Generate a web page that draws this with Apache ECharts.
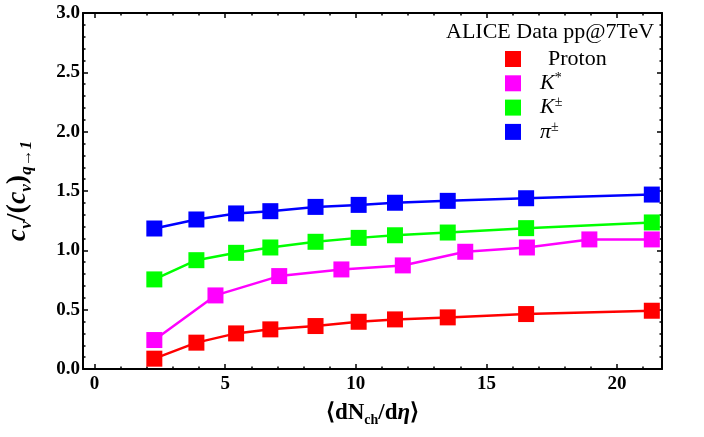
<!DOCTYPE html>
<html>
<head>
<meta charset="utf-8">
<script src="https://cdn.jsdelivr.net/npm/echarts@6/dist/echarts.min.js"></script>
<style>
  html, body { margin: 0; padding: 0; background: #fff; }
  #main { width: 704px; height: 437px; }
</style>
</head>
<body>
<div id="main"></div>
<script>
// dN/deta bins (proton, K+-, pi+-) and K* bins
var xMain = [2.29, 3.90, 5.42, 6.73, 8.46, 10.11, 11.5, 13.52, 16.52, 21.33];
var xKstar = [2.29, 4.63, 7.07, 9.45, 11.8, 14.19, 16.55, 18.94, 21.33];

var proton = [0.087, 0.222, 0.300, 0.334, 0.362, 0.398, 0.418, 0.435, 0.463, 0.491];
var kstar = [0.244, 0.620, 0.783, 0.839, 0.873, 0.988, 1.024, 1.092, 1.092];
var kaon = [0.755, 0.917, 0.979, 1.024, 1.072, 1.105, 1.127, 1.150, 1.187, 1.235];
var pion = [1.184, 1.260, 1.311, 1.330, 1.366, 1.383, 1.401, 1.417, 1.439, 1.470];

var xMajor = [0, 5, 10, 15, 20];
var xMinor = [1, 2, 3, 4, 6, 7, 8, 9, 11, 12, 13, 14, 16, 17, 18, 19, 21];

var names = ['Proton', 'K*', 'K±', 'π±'];
var colors = ['#ff0000', '#ff00ff', '#00ff00', '#0000ff'];

var serif = 'Liberation Serif';

function pairs(xs, ys) {
    return ys.map(function (v, i) { return [xs[i], v]; });
}

var myChart = echarts.init(document.getElementById('main'));

var tickStyle = { color: '#000', width: 1.5 };

function xAx(pos, ticks, len, withLabels, withLine) {
    return {
        type: 'value',
        position: pos,
        min: -0.44,
        max: 21.72,
        axisLine: { show: withLine, onZero: false, lineStyle: { color: '#000', width: 2 } },
        axisTick: { show: true, inside: true, length: len, customValues: ticks, lineStyle: tickStyle },
        axisLabel: withLabels ? {
            customValues: ticks,
            color: '#000', fontFamily: serif, fontWeight: 'bold', fontSize: 19, margin: 6
        } : { show: false },
        splitLine: { show: false }
    };
}

function yAx(pos, withLabels) {
    return {
        type: 'value',
        position: pos,
        min: 0,
        max: 3,
        interval: 0.5,
        axisLine: { show: true, onZero: false, lineStyle: { color: '#000', width: 2 } },
        axisTick: { show: true, inside: true, length: 5, lineStyle: tickStyle },
        minorTick: { show: true, splitNumber: 5, length: 2.5, lineStyle: tickStyle },
        axisLabel: withLabels ? {
            color: '#000', fontFamily: serif, fontWeight: 'bold', fontSize: 19, margin: 3,
            formatter: function (v) { return v.toFixed(1); }
        } : { show: false },
        splitLine: { show: false }
    };
}

var xAxes = [
    xAx('bottom', xMajor, 5, true, true),
    xAx('bottom', xMinor, 2.5, false, false),
    xAx('top', xMajor, 5, false, true),
    xAx('top', xMinor, 2.5, false, false)
];
xAxes[0].name = '{b|⟨dN}{sub|ch}{b|/d}{bi|η}{b|⟩}';
xAxes[0].nameLocation = 'middle';
xAxes[0].nameGap = 30;
xAxes[0].nameTextStyle = {
    rich: {
        b: { fontFamily: serif, fontWeight: 'bold', fontSize: 23, color: '#000', lineHeight: 28 },
        bi: { fontFamily: serif, fontWeight: 'bold', fontStyle: 'italic', fontSize: 23, color: '#000', lineHeight: 28 },
        sub: { fontFamily: serif, fontWeight: 'bold', fontSize: 14, color: '#000', lineHeight: 14, verticalAlign: 'bottom' }
    }
};

var yAxes = [yAx('left', true), yAx('right', false)];
yAxes[0].name = '{c|c}{sub|v}{n|/(}{c|c}{sub|v}{n|)}{sub|q→1}';
yAxes[0].nameLocation = 'middle';
yAxes[0].nameGap = 48;
yAxes[0].nameTextStyle = {
    rich: {
        c: { fontFamily: serif, fontWeight: 'bold', fontStyle: 'italic', fontSize: 28, color: '#000', lineHeight: 34 },
        n: { fontFamily: serif, fontWeight: 'bold', fontSize: 28, color: '#000', lineHeight: 34 },
        sub: { fontFamily: serif, fontWeight: 'bold', fontStyle: 'italic', fontSize: 17, color: '#000', lineHeight: 17, verticalAlign: 'bottom' }
    }
};

var seriesData = [pairs(xMain, proton), pairs(xKstar, kstar), pairs(xMain, kaon), pairs(xMain, pion)];

var series = names.map(function (n, i) {
    return {
        name: n,
        type: 'line',
        xAxisIndex: 0,
        yAxisIndex: 0,
        data: seriesData[i],
        symbol: 'rect',
        symbolSize: 16,
        color: colors[i],
        lineStyle: { width: 2.5, color: colors[i] },
        itemStyle: { color: colors[i] },
        z: 2 + i
    };
});

var legendText = {
    'Proton': '{pr|Proton}',
    'K*': '{it|K}{sup|*}',
    'K±': '{it|K}{sup|±}',
    'π±': '{it|π}{sup|±}'
};

option = {
    animation: false,
    backgroundColor: '#fff',
    grid: { left: 83, right: 42, top: 13, bottom: 68, outerBoundsMode: 'none' },
    title: {
        text: 'ALICE Data pp@7TeV',
        left: 446,
        top: 21,
        padding: 0,
        textStyle: { fontFamily: serif, fontWeight: 'normal', fontSize: 22, color: '#000' }
    },
    legend: {
        orient: 'vertical',
        left: 505,
        top: 48,
        padding: 0,
        itemWidth: 16,
        itemHeight: 16,
        itemGap: 1.3,
        icon: 'rect',
        data: names,
        formatter: function (name) { return legendText[name]; },
        textStyle: {
            fontFamily: serif, fontSize: 22, color: '#000',
            rich: {
                pr: { fontFamily: serif, fontSize: 22, color: '#000', lineHeight: 24, padding: [0, 0, 0, 22] },
                it: { fontFamily: serif, fontStyle: 'italic', fontSize: 22, color: '#000', lineHeight: 24, padding: [0, 0, 0, 14] },
                sup: { fontFamily: serif, fontSize: 14, color: '#000', lineHeight: 14, verticalAlign: 'top' }
            }
        }
    },
    xAxis: xAxes,
    yAxis: yAxes,
    series: series
};

myChart.setOption(option);
window.addEventListener('resize', function () { myChart.resize(); });
</script>
</body>
</html>
